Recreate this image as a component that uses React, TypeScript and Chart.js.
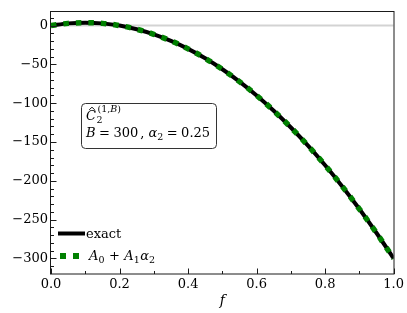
import React, { useEffect, useRef } from 'react';
import { Chart, registerables } from 'chart.js';

Chart.register(...registerables);

const F_VALUES = [0, 0.05, 0.1, 0.15, 0.2, 0.25, 0.3, 0.35, 0.4, 0.45, 0.5, 0.55, 0.6, 0.65, 0.7, 0.75, 0.8, 0.85, 0.9, 0.95, 1.0];
const EXACT = [0, 2.8, 3.7, 2.8, 0, -4.7, -11.3, -19.7, -30, -42.2, -56.3, -72.2, -90, -109.7, -131.3, -154.7, -180, -207.2, -236.3, -267.2, -300];
const APPROX = [0, 2.8, 3.7, 2.8, 0, -4.7, -11.3, -19.7, -30, -42.2, -56.3, -72.2, -90, -109.7, -131.3, -154.7, -180, -207.2, -236.3, -267.2, -300];
const ZERO_LINE = [0, 0];
const ZERO_X = [0, 1];
const X_TICKS = [0, 0.2, 0.4, 0.6, 0.8, 1.0];
const Y_TICKS = [0, -50, -100, -150, -200, -250, -300];
const X_RANGE = [0, 1];
const Y_RANGE = [-320, 19];

const FONT = '"DejaVu Serif", serif';
const FS = 13;
const FSS = 9.5;

type Run = { t: string; it?: boolean; s?: number; dy?: number; dx?: number };

function drawRuns(ctx: CanvasRenderingContext2D, x: number, y: number, runs: Run[], base: number): number {
  for (const r of runs) {
    x += r.dx || 0;
    ctx.font = `${r.it ? 'italic ' : ''}${r.s || base}px ${FONT}`;
    ctx.fillText(r.t, x, y + (r.dy || 0));
    x += ctx.measureText(r.t).width;
  }
  return x;
}

function roundRect(ctx: CanvasRenderingContext2D, x: number, y: number, w: number, h: number, r: number) {
  ctx.beginPath();
  ctx.moveTo(x + r, y);
  ctx.lineTo(x + w - r, y);
  ctx.quadraticCurveTo(x + w, y, x + w, y + r);
  ctx.lineTo(x + w, y + h - r);
  ctx.quadraticCurveTo(x + w, y + h, x + w - r, y + h);
  ctx.lineTo(x + r, y + h);
  ctx.quadraticCurveTo(x, y + h, x, y + h - r);
  ctx.lineTo(x, y + r);
  ctx.quadraticCurveTo(x, y, x + r, y);
  ctx.closePath();
}

const decorPlugin = {
  id: 'decor',
  afterDraw(chart: any) {
    const ctx: CanvasRenderingContext2D = chart.ctx;
    const { left, right, top, bottom } = chart.chartArea;
    const xs = chart.scales.x;
    const ys = chart.scales.y;
    ctx.save();
    // frame
    ctx.strokeStyle = '#1a1a1a';
    ctx.lineWidth = 1;
    ctx.strokeRect(Math.round(left) - 0.5, Math.round(top) + 0.5, Math.round(right) - Math.round(left) + 0.5, Math.round(bottom) - Math.round(top) - 0.5);
    // ticks
    ctx.beginPath();
    for (const v of X_TICKS) {
      const px = Math.round(xs.getPixelForValue(v)) + 0.5;
      ctx.moveTo(px, bottom);
      ctx.lineTo(px, bottom - 5.5);
    }
    for (let i = 0; i < X_TICKS.length - 1; i++) {
      const v = (X_TICKS[i] + X_TICKS[i + 1]) / 2;
      const px = Math.round(xs.getPixelForValue(v)) + 0.5;
      ctx.moveTo(px, bottom);
      ctx.lineTo(px, bottom - 3);
    }
    for (const v of Y_TICKS) {
      const py = Math.round(ys.getPixelForValue(v)) + 0.5;
      ctx.moveTo(left, py);
      ctx.lineTo(left + 5.5, py);
    }
    for (let v = 10; v >= -310; v -= 10) {
      if (v % 50 === 0) continue;
      const py = Math.round(ys.getPixelForValue(v)) + 0.5;
      ctx.moveTo(left, py);
      ctx.lineTo(left + 3, py);
    }
    ctx.stroke();

    // annotation box
    ctx.strokeStyle = '#333';
    ctx.lineWidth = 1;
    ctx.fillStyle = '#fff';
    roundRect(ctx, 81.5, 103.5, 135, 45, 4);
    ctx.fill();
    ctx.stroke();
    ctx.fillStyle = '#000';
    ctx.textBaseline = 'alphabetic';
    ctx.textAlign = 'left';
    // line 1: C hat _2 ^(1,B)
    ctx.font = `italic ${FS}px ${FONT}`;
    const cx = 86;
    const cw = ctx.measureText('C').width;
    ctx.fillText('C', cx, 119.5);
    // hat accent
    ctx.strokeStyle = '#000';
    ctx.lineWidth = 0.9;
    ctx.beginPath();
    const hx = cx + cw / 2 + 1;
    ctx.moveTo(hx - 2.8, 109.8);
    ctx.lineTo(hx, 107.2);
    ctx.lineTo(hx + 2.8, 109.8);
    ctx.stroke();
    const after = cx + cw + 0.5;
    drawRuns(ctx, after, 123, [{ t: '2', s: FSS }], FSS);
    drawRuns(ctx, after + 1, 112, [{ t: '(1,', s: FSS }, { t: 'B', s: FSS, it: true }, { t: ')', s: FSS }], FSS);
    // line 2
    drawRuns(ctx, 86, 136.5, [
      { t: 'B', it: true },
      { t: '=', dx: 3.5 },
      { t: '300', dx: 3.5 },
      { t: ',', dx: 2 },
      { t: 'α', it: true, dx: 4 },
      { t: '2', s: FSS, dy: 3 },
      { t: '=', dx: 3.5 },
      { t: '0.25', dx: 3.5 },
    ], FS);

    // legend
    ctx.strokeStyle = '#000';
    ctx.lineWidth = 4;
    ctx.beginPath();
    ctx.moveTo(58, 233.5);
    ctx.lineTo(85, 233.5);
    ctx.stroke();
    drawRuns(ctx, 86, 238, [{ t: 'exact' }], FS);
    ctx.fillStyle = '#008000';
    ctx.fillRect(60, 253, 6, 6);
    ctx.fillRect(73, 253, 6, 6);
    ctx.fillStyle = '#000';
    drawRuns(ctx, 89, 259.5, [
      { t: 'A', it: true },
      { t: '0', s: FSS, dy: 3 },
      { t: '+', dx: 4.5 },
      { t: 'A', it: true, dx: 4.5 },
      { t: '1', s: FSS, dy: 3 },
      { t: 'α', it: true, dx: 0.5 },
      { t: '2', s: FSS, dy: 3 },
    ], FS);
    ctx.restore();
  },
};

export default function App() {
  const ref = useRef<HTMLCanvasElement>(null);
  useEffect(() => {
    if (!ref.current) return;
    const exact = F_VALUES.map((f, i) => ({ x: f, y: EXACT[i] }));
    const approx = F_VALUES.map((f, i) => ({ x: f, y: APPROX[i] }));
    const zero = ZERO_X.map((x, i) => ({ x, y: ZERO_LINE[i] }));
    const chart = new Chart(ref.current, {
      type: 'line',
      data: {
        datasets: [
          {
            label: 'approx',
            data: approx,
            borderColor: '#008000',
            borderWidth: 5.5,
            borderDash: [5.5, 7],
            borderCapStyle: 'butt',
            pointRadius: 0,
            cubicInterpolationMode: 'monotone',
            fill: false,
          },
          {
            label: 'exact',
            data: exact,
            borderColor: '#000',
            borderWidth: 4,
            pointRadius: 0,
            cubicInterpolationMode: 'monotone',
            fill: false,
          },
          {
            label: 'zero',
            data: zero,
            borderColor: '#d3d3d3',
            borderWidth: 2,
            pointRadius: 0,
            fill: false,
          },
        ],
      },
      options: {
        animation: false,
        responsive: false,
        devicePixelRatio: 1,
        layout: { padding: { left: 0, top: 9, right: 12.5, bottom: 0 } },
        plugins: { legend: { display: false }, tooltip: { enabled: false } },
        scales: {
          x: {
            type: 'linear',
            min: X_RANGE[0],
            max: X_RANGE[1],
            grid: { display: false, drawTicks: false },
            border: { display: false },
            afterBuildTicks: (s: any) => { s.ticks = X_TICKS.map((v) => ({ value: v })); },
            afterFit: (s: any) => { s.height = 39; },
            ticks: {
              padding: 3,
              color: '#000',
              font: { family: FONT, size: FS },
              maxRotation: 0,
              callback: (v: any) => Number(v).toFixed(1),
            },
            title: {
              display: true,
              text: 'f',
              color: '#000',
              font: { family: FONT, size: 14, style: 'italic' },
              padding: { top: 0, bottom: 3.5 },
            },
          },
          y: {
            type: 'linear',
            min: Y_RANGE[0],
            max: Y_RANGE[1],
            grid: { display: false, drawTicks: false },
            border: { display: false },
            afterBuildTicks: (s: any) => { s.ticks = Y_TICKS.map((v) => ({ value: v })); },
            afterFit: (s: any) => { s.width = 51; },
            ticks: {
              padding: 3,
              color: '#000',
              font: { family: FONT, size: FS },
              callback: (v: any) => (Number(v) === 0 ? '0' : (Number(v) < 0 ? '\u2212' : '') + Math.abs(Number(v))),
            },
          },
        },
      },
      plugins: [decorPlugin],
    } as any);
    return () => chart.destroy();
  }, []);
  return (
    <div style={{ position: 'absolute', left: 0, top: 0, width: 407, height: 313 }}>
      <canvas ref={ref} width={407} height={313} />
    </div>
  );
}
